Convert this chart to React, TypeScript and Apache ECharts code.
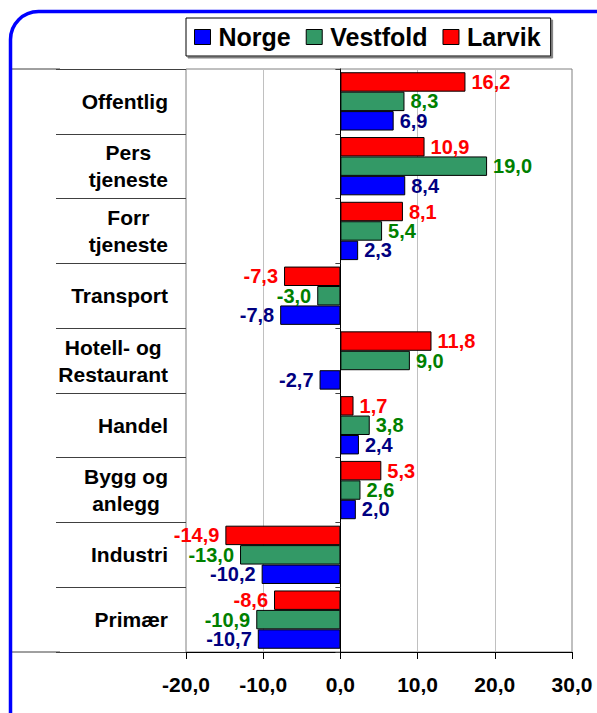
import React, { useEffect, useRef } from 'react';
import * as echarts from 'echarts';

const categories = ['Offentlig', 'Pers\ntjeneste', 'Forr\ntjeneste', 'Transport', 'Hotell- og\nRestaurant', 'Handel', 'Bygg og\nanlegg', 'Industri', 'Primær'];
const norge = [6.9, 8.4, 2.3, -7.8, -2.7, 2.4, 2.0, -10.2, -10.7];
const vestfold = [8.3, 19.0, 5.4, -3.0, 9.0, 3.8, 2.6, -13.0, -10.9];
const larvik = [16.2, 10.9, 8.1, -7.3, 11.8, 1.7, 5.3, -14.9, -8.6];
const legendNames = ['Norge', 'Vestfold', 'Larvik'];
const xMin = -20;
const xMax = 30;
const xStep = 10;

const FONT = 'Arial, "Liberation Sans", sans-serif';
const fmt = (v: number) => v.toFixed(1).replace('.', ',');

function makeSeries(name: string, values: number[], color: string, labelColor: string) {
  return {
    type: 'bar',
    name,
    yAxisIndex: 0,
    data: values.map((v) => ({ value: v, label: { position: v < 0 ? 'left' : 'right' } })),
    itemStyle: { color, borderColor: '#000', borderWidth: 1 },
    barGap: '0%',
    barCategoryGap: '10%',
    label: {
      show: true,
      distance: 6,
      color: labelColor,
      fontSize: 20,
      fontWeight: 'bold',
      fontFamily: FONT,
      formatter: (p: any) => fmt(p.value),
    },
  };
}

export default function App() {
  const ref = useRef<HTMLDivElement>(null);
  useEffect(() => {
    if (!ref.current) return;
    const chart = echarts.init(ref.current, undefined, { renderer: 'svg' });
    const option: any = {
      animation: false,
      backgroundColor: '#fff',
      grid: {
        left: 186,
        right: 25,
        top: 69,
        bottom: 61,
        show: true,
        borderColor: '#808080',
        borderWidth: 1,
        backgroundColor: 'transparent',
      },
      legend: {
        data: legendNames,
        left: 186,
        top: 18,
        orient: 'horizontal',
        icon: 'rect',
        itemWidth: 16,
        itemHeight: 15,
        itemGap: 15,
        padding: [5, 10, 5, 8],
        borderColor: '#000',
        borderWidth: 1,
        backgroundColor: '#fff',
        shadowColor: '#808080',
        shadowOffsetX: 2,
        shadowOffsetY: 2,
        shadowBlur: 0,
        itemStyle: { borderColor: '#000', borderWidth: 1 },
        textStyle: {
          fontSize: 25,
          fontWeight: 'bold',
          color: '#000',
          fontFamily: FONT,
          lineHeight: 28,
          padding: [0, 0, 0, 3],
        },
      },
      xAxis: {
        type: 'value',
        min: xMin,
        max: xMax,
        interval: xStep,
        axisLine: { show: true, onZero: false, lineStyle: { color: '#000', width: 1 } },
        axisTick: { show: true, inside: false, length: 7, lineStyle: { color: '#000' } },
        axisLabel: {
          margin: 22,
          fontSize: 21,
          fontWeight: 'bold',
          color: '#000',
          fontFamily: FONT,
          formatter: (v: number) => fmt(v),
        },
        splitLine: { show: true, showMinLine: false, showMaxLine: false, lineStyle: { color: '#c0c0c0', width: 1 } },
      },
      yAxis: [
        {
          type: 'category',
          data: categories,
          inverse: true,
          position: 'left',
          axisLine: { show: false, onZero: false },
          axisTick: { show: true, inside: false, length: 130, lineStyle: { color: '#404040', width: 1 } },
          splitLine: { show: false },
          axisLabel: {
            margin: 18,
            align: 'right',
            formatter: (v: string) => v.split('\n').map((l) => `{c|${l}}`).join('\n'),
            rich: {
              c: {
                align: 'center',
                fontSize: 21,
                fontWeight: 'bold',
                color: '#000',
                fontFamily: FONT,
                lineHeight: 27,
              },
            },
          },
        },
        {
          type: 'category',
          data: categories,
          inverse: true,
          position: 'left',
          axisLine: { show: true, onZero: true, lineStyle: { color: '#000', width: 1 } },
          axisTick: { show: true, inside: false, length: 5, lineStyle: { color: '#404040' } },
          axisLabel: { show: false },
          splitLine: { show: false },
        },
      ],
      series: [
        makeSeries('Larvik', larvik, '#ff0000', '#ff0000'),
        makeSeries('Vestfold', vestfold, '#339966', '#008000'),
        makeSeries('Norge', norge, '#0000ff', '#000080'),
      ],
      graphic: [
        {
          type: 'line',
          shape: { x1: 10, y1: 69, x2: 60, y2: 69 },
          style: { stroke: '#404040', lineWidth: 1 },
        },
        {
          type: 'line',
          shape: { x1: 10, y1: 652, x2: 60, y2: 652 },
          style: { stroke: '#404040', lineWidth: 1 },
        },
        {
          type: 'rect',
          shape: { x: 10.5, y: 11.5, width: 640, height: 760, r: 28 },
          style: { fill: 'none', stroke: '#0000ff', lineWidth: 3.5 },
          z: 100,
        },
      ],
    };
    chart.setOption(option);
    return () => chart.dispose();
  }, []);
  return (
    <div
      ref={ref}
      style={{ position: 'fixed', left: 0, top: 0, width: 597, height: 713 }}
    />
  );
}
